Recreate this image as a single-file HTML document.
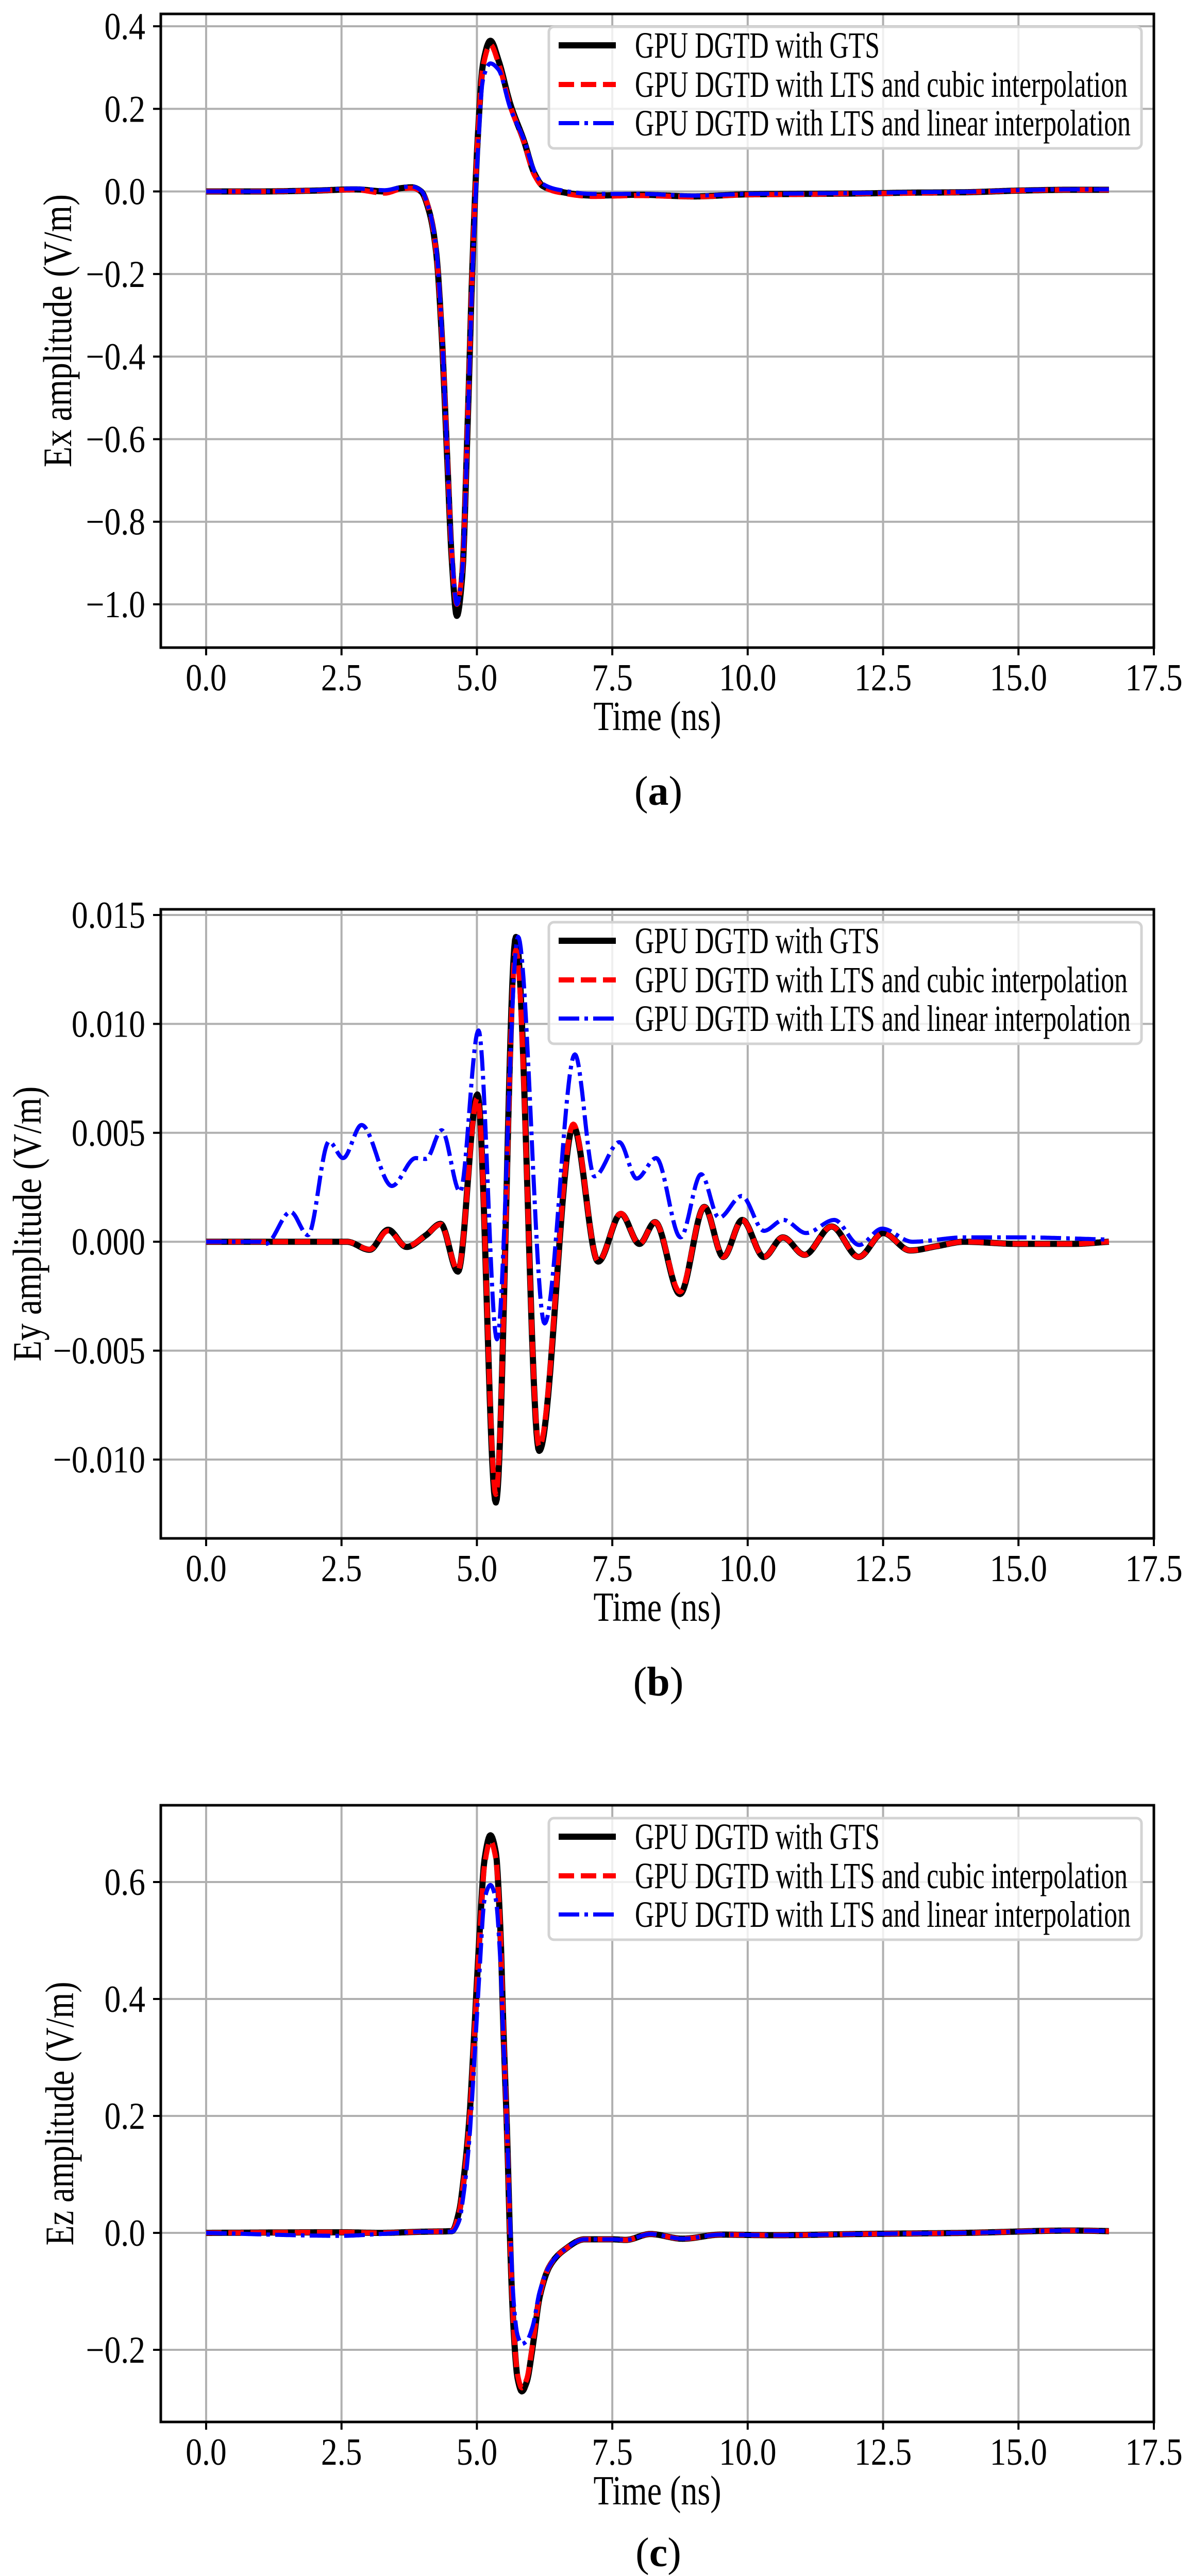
<!DOCTYPE html>
<html><head><meta charset="utf-8">
<style>
html,body{margin:0;padding:0;background:#fff;}
svg{display:block;}
text{font-family:"Liberation Serif",serif;fill:#000;}
</style></head>
<body>
<svg id="fig" width="2313" height="5040" viewBox="0 0 2313 5040" xmlns="http://www.w3.org/2000/svg"></svg>
<script>
// ---------- shared x axis ----------
const xTicks = [0, 2.5, 5, 7.5, 10, 12.5, 15, 17.5];
const xTickLabels = ["0.0","2.5","5.0","7.5","10.0","12.5","15.0","17.5"];
const seriesNames = ["GPU DGTD with GTS","GPU DGTD with LTS and cubic interpolation","GPU DGTD with LTS and linear interpolation"];

// ---------- panel (a) Ex ----------
const exTime = [0,1,2,2.75,3.3,3.6,3.8,3.97,4.13,4.25,4.35,4.44,4.54,4.63,4.73,4.83,4.92,5.02,5.11,5.25,5.40,5.62,5.87,6.06,6.22,6.51,7.14,8.0,9.0,10.0,11,12,13,14,15,16,16.67];
const exGTS = [0,0,0.002,0.005,0,0.008,0.01,0,-0.054,-0.15,-0.346,-0.61,-0.9,-1.028,-0.93,-0.56,-0.17,0.14,0.307,0.365,0.317,0.21,0.122,0.044,0.013,0,-0.01,-0.008,-0.012,-0.007,-0.006,-0.005,-0.003,-0.002,0.002,0.004,0.004];
const exCubic = [0,0,0.002,0.004,-0.004,0.006,0.008,0,-0.05,-0.15,-0.34,-0.6,-0.89,-1.0,-0.92,-0.55,-0.17,0.14,0.3,0.355,0.31,0.205,0.12,0.04,0.012,-0.002,-0.012,-0.01,-0.013,-0.008,-0.007,-0.005,-0.004,-0.002,0.002,0.004,0.004];
const exLinear = [0,0,0.003,0.007,0.003,0.01,0.012,0.002,-0.05,-0.14,-0.33,-0.6,-0.88,-1.0,-0.92,-0.57,-0.19,0.1,0.27,0.31,0.295,0.2,0.125,0.05,0.018,0.004,-0.006,-0.006,-0.01,-0.006,-0.005,-0.004,-0.002,-0.001,0.003,0.005,0.005];
const exYTicks = [0.4,0.2,0,-0.2,-0.4,-0.6,-0.8,-1.0];
const exYLabels = ["0.4","0.2","0.0","\u22120.2","\u22120.4","\u22120.6","\u22120.8","\u22121.0"];

// ---------- panel (b) Ey ----------
const eyTime = [0,1,2,2.6,3.02,3.36,3.70,4.06,4.33,4.65,5.01,5.35,5.72,6.15,6.78,7.24,7.66,8.0,8.29,8.75,9.2,9.55,9.9,10.3,10.65,11.05,11.55,12.05,12.5,13.0,13.5,14,15,16,16.67];
const eyGTS = [0,0,0,0,-0.00037,0.00055,-0.00024,0.0003,0.00082,-0.00137,0.00676,-0.01197,0.01399,-0.0096,0.0053,-0.00091,0.00128,-0.0001,0.0009,-0.0024,0.0016,-0.0007,0.001,-0.0007,0.0002,-0.0006,0.0007,-0.0007,0.0004,-0.0004,-0.0002,0,-0.0001,-0.0001,0];
const eyCubic = [0,0,0,0,-0.00035,0.0005,-0.00022,0.0003,0.0008,-0.0013,0.0066,-0.0116,0.0134,-0.0094,0.0054,-0.0009,0.0013,-0.0001,0.0009,-0.0023,0.0016,-0.0007,0.001,-0.0007,0.0002,-0.0006,0.0007,-0.0007,0.0004,-0.0004,-0.0002,0,-0.0001,-0.0001,0];
const eyLinTime = [0,1.0,1.1,1.56,1.88,2.27,2.53,2.87,3.43,3.87,4.06,4.35,4.69,5.03,5.37,5.76,6.25,6.81,7.17,7.63,7.95,8.31,8.76,9.14,9.47,9.89,10.3,10.66,11.08,11.6,12.06,12.48,13.04,14,15,16.67];
const eyLinear = [0,0,-0.0001,0.00137,0.0003,0.0046,0.00384,0.00536,0.00256,0.00384,0.0038,0.00512,0.00229,0.0097,-0.00448,0.0140,-0.00375,0.0086,0.003,0.00457,0.0029,0.00384,0.0002,0.0031,0.0011,0.0021,0.0005,0.001,0.0004,0.001,-0.00015,0.0006,0,0.0002,0.0002,0.0001];
const eyYTicks = [0.015,0.010,0.005,0,-0.005,-0.010];
const eyYLabels = ["0.015","0.010","0.005","0.000","\u22120.005","\u22120.010"];

// ---------- panel (c) Ez ----------
const ezTime = [0,2.5,3.2,4.0,4.54,4.67,4.76,4.86,4.95,5.05,5.14,5.25,5.35,5.43,5.49,5.56,5.62,5.68,5.75,5.83,5.92,6.03,6.16,6.35,6.6,6.99,7.5,7.75,8.2,8.8,9.5,10.5,12,14,16,16.67];
const ezGTS = [0,0.001,0,0.002,0.003,0.036,0.096,0.195,0.34,0.513,0.638,0.68,0.65,0.526,0.347,0.162,-0.036,-0.169,-0.248,-0.271,-0.255,-0.195,-0.109,-0.056,-0.03,-0.011,-0.011,-0.012,-0.002,-0.01,-0.003,-0.004,-0.002,0,0.004,0.003];
const ezCubic = [0,0.001,0,0.002,0.003,0.034,0.092,0.19,0.335,0.505,0.628,0.67,0.64,0.52,0.345,0.16,-0.034,-0.165,-0.242,-0.265,-0.25,-0.19,-0.107,-0.055,-0.03,-0.011,-0.011,-0.012,-0.002,-0.01,-0.003,-0.004,-0.002,0,0.004,0.003];
const ezLinear = [0,-0.005,-0.002,0.002,0.002,0.02,0.07,0.16,0.29,0.45,0.57,0.595,0.57,0.47,0.33,0.17,0.0,-0.12,-0.175,-0.19,-0.185,-0.16,-0.1,-0.055,-0.03,-0.011,-0.011,-0.012,-0.002,-0.01,-0.003,-0.004,-0.002,0,0.004,0.003];
const ezYTicks = [0.6,0.4,0.2,0,-0.2];
const ezYLabels = ["0.6","0.4","0.2","0.0","\u22120.2"];

const NS = "http://www.w3.org/2000/svg";
const svg = document.getElementById("fig");
function mk(tag, attrs, parent){ const e=document.createElementNS(NS,tag); for(const k in attrs) e.setAttribute(k,attrs[k]); (parent||svg).appendChild(e); return e; }

function smooth(xs, ys){
  const n=xs.length, d=[], m=[];
  for(let i=0;i<n-1;i++) d.push((ys[i+1]-ys[i])/(xs[i+1]-xs[i]));
  m[0]=d[0]; m[n-1]=d[n-2];
  for(let i=1;i<n-1;i++){ if(d[i-1]*d[i]<=0) m[i]=0; else { const w1=2*(xs[i+1]-xs[i])+(xs[i]-xs[i-1]), w2=(xs[i+1]-xs[i])+2*(xs[i]-xs[i-1]); m[i]=(w1+w2)/(w1/d[i-1]+w2/d[i]); } }
  const out=[];
  for(let i=0;i<n-1;i++){
    const h=xs[i+1]-xs[i], steps=Math.max(4,Math.ceil(h*60));
    for(let s=0;s<steps;s++){
      const t=s/steps, t2=t*t, t3=t2*t;
      const y=(2*t3-3*t2+1)*ys[i]+(t3-2*t2+t)*h*m[i]+(-2*t3+3*t2)*ys[i+1]+(t3-t2)*h*m[i+1];
      out.push([xs[i]+t*h,y]);
    }
  }
  out.push([xs[n-1],ys[n-1]]);
  return out;
}

function panel(cfg){
  const L=312, R=2239, T=cfg.top, B=cfg.bottom;
  const xmin=-0.837, xmax=17.5;
  const X=v=>L+(v-xmin)/(xmax-xmin)*(R-L);
  const Y=v=>cfg.y0px+(v-cfg.yRef0)*cfg.pxPerUnit*-1;
  const g=mk("g",{});
  
  
  const clipId="clip"+cfg.key;
  const cp=mk("clipPath",{id:clipId},g); mk("rect",{x:L,y:T,width:R-L,height:B-T},cp);
  xTicks.forEach((v,i)=>{
    const ln=mk("line",{x1:X(v),x2:X(v),y1:T,y2:B,stroke:"#b0b0b0","stroke-width":4},g);
    
    
    const tk=mk("line",{x1:X(v),x2:X(v),y1:B,y2:B+15,stroke:"#000","stroke-width":4},g);
    
    
    const tx=mk("text",{transform:`translate(${X(v)},${B+83}) scale(0.86,1)`,"text-anchor":"middle","font-size":74},g);
    tx.textContent=xTickLabels[i];
    
    
  });
  cfg.yTicks.forEach((v,i)=>{
    const ln=mk("line",{x1:L,x2:R,y1:Y(v),y2:Y(v),stroke:"#b0b0b0","stroke-width":4},g);
    
    
    const tk=mk("line",{x1:L-15,x2:L,y1:Y(v),y2:Y(v),stroke:"#000","stroke-width":4},g);
    
    
    const tx=mk("text",{transform:`translate(${L-30},${Y(v)+25}) scale(0.86,1)`,"text-anchor":"end","font-size":74},g);
    tx.textContent=cfg.yLabels[i];
    
    
  });
  const styles=[
    {stroke:"#000","stroke-width":12,name:"series-gts"},
    {stroke:"#ff0000","stroke-width":10,"stroke-dasharray":"30 13",name:"series-lts-cubic"},
    {stroke:"#0000ff","stroke-width":8,"stroke-dasharray":"40 10 7 10",name:"series-lts-linear"}
  ];
  cfg.series.forEach((s,i)=>{
    const pts=smooth(s[0],s[1]);
    const d="M"+pts.map(p=>X(p[0]).toFixed(1)+","+Y(p[1]).toFixed(1)).join("L");
    const st=styles[i];
    const a={d:d,fill:"none",stroke:st.stroke,"stroke-width":st["stroke-width"],"stroke-linejoin":"round","clip-path":`url(#${clipId})`};
    if(st["stroke-dasharray"]) a["stroke-dasharray"]=st["stroke-dasharray"];
    const p=mk("path",a,g);
    
    
  });
  const sp=mk("rect",{x:L,y:T,width:R-L,height:B-T,fill:"none",stroke:"#000","stroke-width":5},g);
  
  
  const lg=mk("g",{},g);
  
  
  const lt=T+25;
  mk("rect",{x:1065,y:lt,width:1150,height:236,rx:10,fill:"#fff","fill-opacity":0.8,stroke:"#d3d3d3","stroke-width":5},lg);
  const rows=[36,112,187], widths=[475,956,962];
  rows.forEach((ry,i)=>{
    const st=styles[i];
    const a={x1:1084,x2:1195,y1:lt+ry,y2:lt+ry,stroke:st.stroke,"stroke-width":st["stroke-width"]};
    if(st["stroke-dasharray"]) a["stroke-dasharray"]=st["stroke-dasharray"];
    const ln=mk("line",a,lg);
    
    
    const tx=mk("text",{x:1232,y:lt+ry+24,"font-size":72,textLength:widths[i],lengthAdjust:"spacingAndGlyphs"},lg);
    tx.textContent=seriesNames[i];
    
    
  });
  const xl=mk("text",{x:(L+R)/2,y:B+160,"text-anchor":"middle","font-size":80,textLength:248,lengthAdjust:"spacingAndGlyphs"},g);
  xl.textContent="Time (ns)";
  
  
  const cy=(T+B)/2;
  const yl=mk("text",{transform:`translate(${cfg.ylabX+27},${cy}) rotate(-90)`,"text-anchor":"middle","font-size":78,textLength:cfg.ylabLen,lengthAdjust:"spacingAndGlyphs"},g);
  yl.textContent=cfg.ylabel;
  
  
  const cap=mk("text",{x:(L+R)/2+2,y:B+cfg.capOff,"text-anchor":"middle","font-size":80},g);
  cap.appendChild(document.createTextNode("("));
  const bt=mk("tspan",{"font-weight":"bold"},cap); bt.textContent=cfg.letter;
  cap.appendChild(document.createTextNode(")"));
  
  
}

panel({key:"a",name:"panel-a-ex",top:27,bottom:1257,y0px:51,yRef0:0.4,pxPerUnit:(1173-51)/1.4,
  yTicks:exYTicks,yLabels:exYLabels,ylabel:"Ex amplitude (V/m)",ylabX:111,ylabLen:530,letter:"a",capOff:305,
  series:[[exTime,exGTS],[exTime,exCubic],[exTime,exLinear]]});
panel({key:"b",name:"panel-b-ey",top:1765,bottom:2986,y0px:1776,yRef0:0.015,pxPerUnit:(2833-1776)/0.025,
  yTicks:eyYTicks,yLabels:eyYLabels,ylabel:"Ey amplitude (V/m)",ylabX:52,ylabLen:534,letter:"b",capOff:305,
  series:[[eyTime,eyGTS],[eyTime,eyCubic],[eyLinTime,eyLinear]]});
panel({key:"c",name:"panel-c-ez",top:3504,bottom:4701,y0px:3653,yRef0:0.6,pxPerUnit:(4561-3653)/0.8,
  yTicks:ezYTicks,yLabels:ezYLabels,ylabel:"Ez amplitude (V/m)",ylabX:115,ylabLen:512,letter:"c",capOff:280,
  series:[[ezTime,ezGTS],[ezTime,ezCubic],[ezTime,ezLinear]]});
</script>
</body></html>
